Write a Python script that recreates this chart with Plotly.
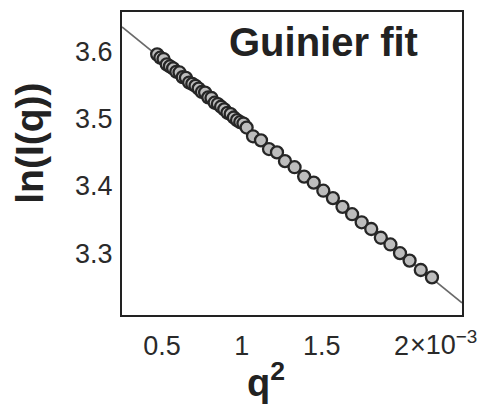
import plotly.graph_objects as go

# Data (q^2 in Å^-2, ln(I(q)))
q2 = [0.47e-3, 0.49e-3, 0.51e-3, 0.53e-3, 0.55e-3, 0.57e-3, 0.59e-3, 0.61e-3,
      0.63e-3, 0.65e-3, 0.67e-3, 0.69e-3, 0.71e-3, 0.73e-3, 0.75e-3, 0.77e-3,
      0.79e-3, 0.81e-3, 0.83e-3, 0.85e-3, 0.87e-3, 0.89e-3, 0.91e-3, 0.93e-3,
      0.95e-3, 0.97e-3, 0.99e-3, 1.01e-3, 1.03e-3,
      1.07e-3, 1.12e-3, 1.17e-3, 1.22e-3, 1.27e-3, 1.33e-3, 1.39e-3, 1.45e-3,
      1.51e-3, 1.57e-3, 1.63e-3, 1.69e-3, 1.75e-3, 1.81e-3, 1.87e-3, 1.93e-3,
      1.99e-3, 2.05e-3, 2.12e-3, 2.19e-3]
ln_I = [3.596, 3.591, 3.589, 3.581, 3.578, 3.575, 3.570, 3.569,
        3.562, 3.561, 3.554, 3.552, 3.549, 3.545, 3.540, 3.539,
        3.532, 3.531, 3.524, 3.522, 3.518, 3.514, 3.509, 3.507,
        3.502, 3.498, 3.495, 3.493, 3.487,
        3.474, 3.468, 3.455, 3.450, 3.437, 3.428, 3.414, 3.405,
        3.393, 3.382, 3.369, 3.358, 3.346, 3.336, 3.323, 3.313,
        3.300, 3.289, 3.275, 3.264]

# Guinier fit parameters (ln I = intercept + slope * q^2)
fit_intercept = 3.685
fit_slope = -193.0

x_range = [0.250e-3, 2.378e-3]
y_range = [3.208, 3.659]

x_tickvals = [0.5e-3, 1.0e-3, 1.5e-3, 2.0e-3]
x_ticktext = ["0.5", "1", "1.5", "2"]
y_tickvals = [3.3, 3.4, 3.5, 3.6]
y_ticktext = ["3.3", "3.4", "3.5", "3.6"]

fit_x = list(x_range)
fit_y = [fit_intercept + fit_slope * v for v in fit_x]

fig = go.Figure()
fig.add_trace(go.Scatter(x=fit_x, y=fit_y, mode="lines",
                         line=dict(color="#6a6a6a", width=1.6),
                         showlegend=False, hoverinfo="skip"))
fig.add_trace(go.Scatter(x=q2, y=ln_I, mode="markers",
                         marker=dict(symbol="circle", size=12, color="#bdbdbd",
                                     line=dict(color="#262626", width=2.3)),
                         showlegend=False))

FAM = "Liberation Sans, Arial, sans-serif"
font_tick = dict(family=FAM, size=27, color="#2a2a2a")

fig.update_layout(
    width=477, height=396,
    margin=dict(l=114, r=23, t=2, b=89),
    paper_bgcolor="white", plot_bgcolor="white",
    xaxis=dict(range=x_range, tickvals=x_tickvals, ticktext=x_ticktext,
               showgrid=False, zeroline=False, showline=True, mirror=True,
               linecolor="#222", linewidth=2, ticks="", tickfont=font_tick,
               ticklabelstandoff=6),
    yaxis=dict(range=y_range, tickvals=y_tickvals, ticktext=y_ticktext,
               showgrid=False, zeroline=False, showline=True, mirror=True,
               linecolor="#222", linewidth=2, ticks="", tickfont=font_tick,
               ticklabelstandoff=2),
    annotations=[
        dict(text="<b>Guinier fit</b>", xref="paper", yref="paper",
             x=0.594, y=0.902, xanchor="center", yanchor="middle", showarrow=False,
             font=dict(family=FAM, size=40, color="#222")),
        dict(text="<b>ln(I(q))</b>", xref="paper", yref="paper", textangle=-90,
             x=-0.272, y=0.567, xanchor="center", yanchor="middle", showarrow=False,
             font=dict(family=FAM, size=39, color="#222")),
        dict(text="<b>q<sup>2</sup></b>", xref="paper", yref="paper",
             x=0.424, y=-0.215, xanchor="center", yanchor="middle", showarrow=False,
             font=dict(family=FAM, size=38, color="#222")),
        dict(text="×10<sup>−3</sup>", xref="x", yref="paper",
             x=2.0e-3, y=-0.093, xanchor="left", yanchor="middle", xshift=6,
             showarrow=False, font=font_tick),
    ],
)

fig.write_html("out.html")
